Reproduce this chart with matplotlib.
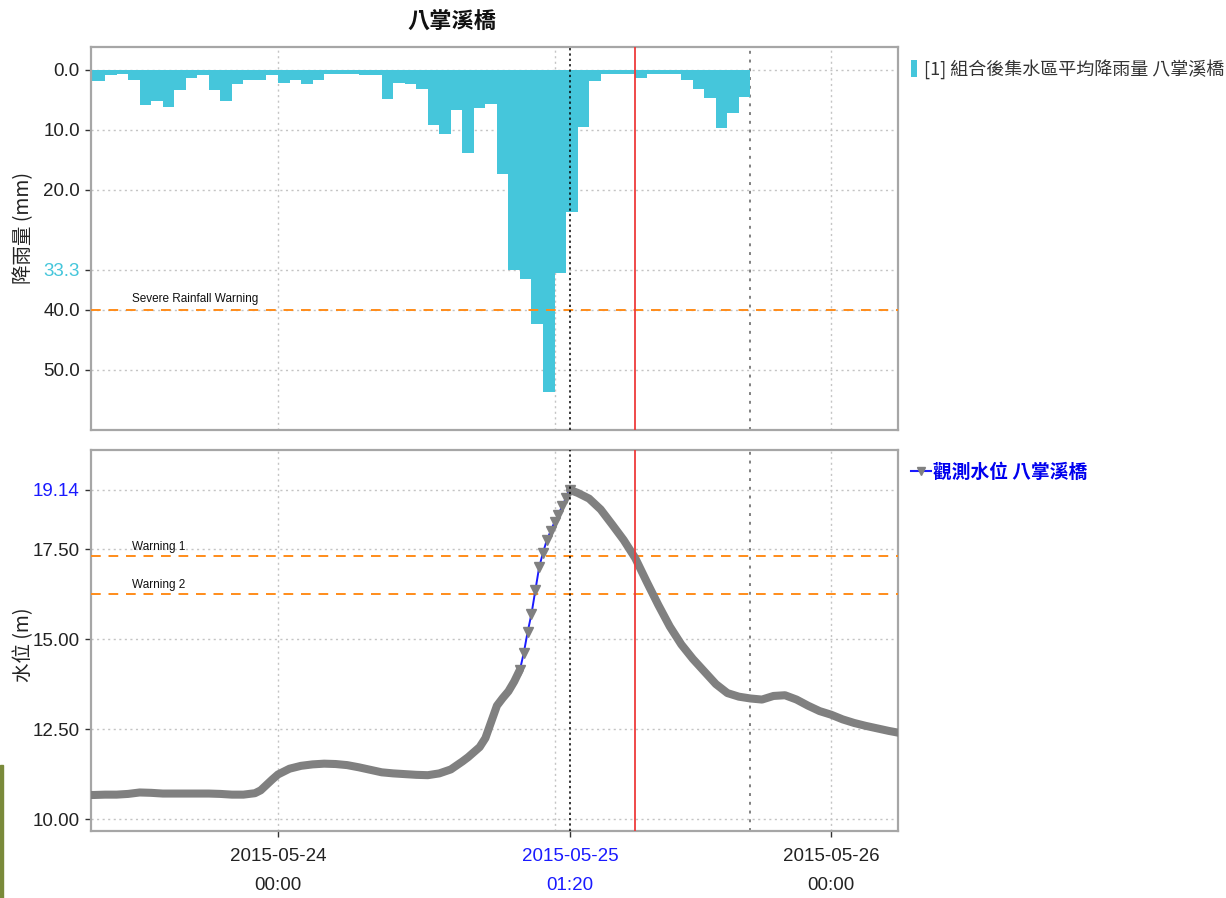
import pandas as pd
import matplotlib
matplotlib.use("Agg")
import matplotlib.pyplot as plt
import matplotlib.dates as mdates
from matplotlib.patches import Patch, Rectangle
from matplotlib.lines import Line2D

# 數字用窄字體, 中文用 Noto Sans CJK TC
plt.rcParams['font.family'] = ['Liberation Sans Narrow', 'Liberation Sans', 'DejaVu Sans']
CJK = ['Noto Sans CJK TC', 'DejaVu Sans']

# ---- 資料 ----
# 時雨量 (mm), 每小時一筆, 從 2015-05-23 07:00 起
rain_start = "2015-05-23 07:00"
rain_mm = [1.8, 1.8, 0.8, 0.6, 1.6, 5.8, 5.1, 6.1, 3.3, 1.4, 0.9, 3.3, 5.1, 2.4, 1.6, 1.6, 0.9,
           2.1, 1.7, 2.4, 1.6, 0.6, 0.6, 0.6, 0.8, 0.8, 4.8, 2.2, 2.4, 3.1, 9.2, 10.7, 6.6,
           13.9, 6.3, 5.6, 17.4, 33.3, 34.9, 42.4, 53.6,
           33.8, 23.7, 9.5, 1.9, 0.6, 0.6, 0.6, 1.4, 0.6, 0.6, 0.6, 1.7, 3.2, 4.6, 9.7, 7.2, 4.5]

# 觀測水位 (m), 時間為距 2015-05-24 00:00 的小時數
level_hours = [-17, -16, -15, -14, -13, -12, -11, -10, -9, -8, -7, -6, -5, -4, -3, -2, -1.5, -1, -0.5,
               0, 1, 2, 3, 4, 5, 6, 7, 8, 9, 10, 11, 12, 13, 14, 15, 16, 16.5, 17, 17.5,
               18, 18.5, 19, 19.5, 20, 20.5,
               21, 21.333, 21.667, 22, 22.333, 22.667, 23, 23.333, 23.667, 24, 24.333, 24.667, 25, 25.333,
               26, 27, 28, 29, 30, 31, 32, 33, 34, 35, 36, 37, 38, 39, 40, 41, 42, 43, 44, 45,
               46, 47, 48, 49, 50, 51, 52, 53, 54]
level_m = [10.67, 10.67, 10.68, 10.68, 10.70, 10.74, 10.73, 10.71, 10.71, 10.71, 10.71, 10.71,
           10.70, 10.68, 10.68, 10.72, 10.80, 10.95, 11.10,
           11.24, 11.40, 11.48, 11.52, 11.54, 11.53, 11.50, 11.44, 11.37, 11.30, 11.27, 11.25,
           11.23, 11.22, 11.27, 11.38, 11.60, 11.72, 11.86, 12.00,
           12.25, 12.70, 13.15, 13.36, 13.55, 13.82,
           14.15, 14.62, 15.20, 15.70, 16.35, 17.00, 17.40, 17.75, 18.00, 18.25, 18.45, 18.70, 18.92, 19.14,
           19.06, 18.90, 18.60, 18.18, 17.75, 17.25, 16.59, 15.95, 15.35, 14.85, 14.45, 14.10,
           13.75, 13.50, 13.40, 13.35, 13.32, 13.42, 13.44, 13.32,
           13.15, 13.00, 12.90, 12.77, 12.67, 12.59, 12.52, 12.45, 12.39]

rain_ticks = [0.0, 10.0, 20.0, 33.3, 40.0, 50.0]
level_ticks = [10.0, 12.5, 15.0, 17.5, 19.14]
severe_rain = 40.0
warning_1 = 17.31
warning_2 = 16.25

base = pd.Timestamp("2015-05-24 00:00")
rain_times = mdates.date2num(pd.date_range(rain_start, periods=len(rain_mm), freq="h"))
level_times = mdates.date2num(base + pd.to_timedelta(level_hours, unit="h"))

x_left = mdates.date2num(base + pd.Timedelta(hours=-16.23))
x_right = mdates.date2num(base + pd.Timedelta(hours=53.81))
sel_time = mdates.date2num(pd.Timestamp("2015-05-25 01:20"))
red_time = mdates.date2num(pd.Timestamp("2015-05-25 07:00"))
end_time = mdates.date2num(pd.Timestamp("2015-05-25 17:00"))
day_lines = mdates.date2num(pd.to_datetime(["2015-05-24", "2015-05-25", "2015-05-26"]))
x_ticks = [day_lines[0], sel_time, day_lines[2]]
x_labels = ["2015-05-24\n00:00", "2015-05-25\n01:20", "2015-05-26\n00:00"]

CYAN = "#45c6db"
GRAY = "#808080"
ORANGE = "#ff8c1a"
BLUE = "#1a1aff"
GRID = "#c4c4c4"

fig = plt.figure(figsize=(12.26, 8.98), dpi=100)
ax1 = fig.add_axes([0.0742, 0.5212, 0.6583, 0.4265])
ax2 = fig.add_axes([0.0742, 0.0746, 0.6583, 0.4243])


def common_lines(ax, yticks):
    for y in yticks:
        ax.axhline(y, color=GRID, ls=(0, (1.5, 2.5)), lw=1, zorder=1)
    for d in day_lines:
        ax.axvline(d, color=GRID, ls=(0, (1.5, 2.5)), lw=1, zorder=1)
    ax.axvline(end_time, color="#808080", ls=(0, (1.5, 3)), lw=1.4, zorder=1)
    ax.axvline(sel_time, color="black", ls=(0, (1.5, 2)), lw=1.1, zorder=6)
    ax.axvline(red_time, color="#ee3b3b", lw=1.3, zorder=6)
    for s in ax.spines.values():
        s.set_color("#a6a6a6")
        s.set_linewidth(1.6)
    ax.set_xlim(x_left, x_right)
    ax.tick_params(axis="y", length=4, width=1, color="#333333", pad=4,
                   labelsize=13.5, labelcolor="#222222")


# ---- 上圖: 降雨量 ----
ax1.bar(rain_times, rain_mm, width=1 / 24, align="edge", color=CYAN, linewidth=0, zorder=2)
common_lines(ax1, rain_ticks)
ax1.axhline(severe_rain, color=ORANGE, ls=(0, (5, 4)), lw=1.4, zorder=3)
ax1.text(0.051, severe_rain - 0.8, "Severe Rainfall Warning", transform=ax1.get_yaxis_transform(),
         fontsize=8.5, va="bottom", ha="left", color="#111111")
ax1.set_ylim(60, -3.83)
ax1.set_yticks(rain_ticks)
ax1.set_yticklabels([f"{v:.1f}" for v in rain_ticks])
ax1.get_yticklabels()[3].set_color(CYAN)
ax1.set_xticks([])
ax1.set_ylabel("降雨量 (mm)", fontsize=14, family=CJK, color="#222222")
ax1.yaxis.set_label_coords(-0.071, 0.527)

leg1 = ax1.legend([Patch(facecolor=CYAN, edgecolor="none")], ["[1] 組合後集水區平均降雨量 八掌溪橋"],
                  loc="center left", bbox_to_anchor=(911 / 1226, 1 - 69 / 898),
                  bbox_transform=fig.transFigure, frameon=False, borderpad=0, borderaxespad=0,
                  handlelength=0.35, handleheight=1.0, handletextpad=0.35,
                  prop={"family": CJK, "size": 13})
leg1.get_texts()[0].set_color("#333333")

# ---- 下圖: 水位 ----
common_lines(ax2, level_ticks)
ax2.axhline(warning_1, color=ORANGE, ls=(0, (5, 4)), lw=1.4, zorder=3)
ax2.axhline(warning_2, color=ORANGE, ls=(0, (5, 4)), lw=1.4, zorder=3)
ax2.text(0.051, warning_1 + 0.08, "Warning 1", transform=ax2.get_yaxis_transform(),
         fontsize=8.5, va="bottom", ha="left", color="#111111")
ax2.text(0.051, warning_2 + 0.08, "Warning 2", transform=ax2.get_yaxis_transform(),
         fontsize=8.5, va="bottom", ha="left", color="#111111")

i_a = level_hours.index(21)
i_b = level_hours.index(25.333)
ax2.plot(level_times[:i_a + 1], level_m[:i_a + 1], color=GRAY, lw=5.8,
         solid_capstyle="round", solid_joinstyle="round", zorder=4)
ax2.plot(level_times[i_b:], level_m[i_b:], color=GRAY, lw=5.8,
         solid_capstyle="round", solid_joinstyle="round", zorder=4)
ax2.plot(level_times[i_a:i_b + 1], level_m[i_a:i_b + 1], color=BLUE, lw=1.4, zorder=4)
ax2.plot(level_times[i_a:i_b + 1], level_m[i_a:i_b + 1], ls="none", marker="v", ms=6.5,
         color=GRAY, zorder=5)

ax2.set_ylim(9.67, 20.25)
ax2.set_yticks(level_ticks)
ax2.set_yticklabels([f"{v:.2f}" for v in level_ticks])
ax2.get_yticklabels()[4].set_color(BLUE)
ax2.set_xticks(x_ticks)
ax2.set_xticklabels(x_labels)
ax2.tick_params(axis="x", length=4, width=1, color="#333333", pad=8,
                labelsize=13.5, labelcolor="#222222")
for lab in ax2.get_xticklabels():
    lab.set_linespacing(1.95)
ax2.get_xticklabels()[1].set_color(BLUE)
ax2.set_ylabel("水位 (m)", fontsize=14, family=CJK, color="#222222")
ax2.yaxis.set_label_coords(-0.071, 0.49)

h2 = Line2D([], [], color=BLUE, lw=1.5, marker="v", ms=6, markerfacecolor=GRAY,
            markeredgecolor=GRAY)
leg2 = ax2.legend([h2], ["觀測水位 八掌溪橋"], loc="center left",
                  bbox_to_anchor=(911 / 1226, 1 - 472 / 898), bbox_transform=fig.transFigure,
                  frameon=False, borderpad=0, borderaxespad=0, handlelength=1.05,
                  handletextpad=0.1, prop={"family": CJK, "size": 13.5, "weight": "bold"})
leg2.get_texts()[0].set_color("#0000ee")

fig.text(452 / 1226, 1 - 22 / 898, "八掌溪橋", ha="center", va="center", fontsize=16,
         weight="bold", family=CJK, color="#111111")
fig.add_artist(Rectangle((0, 0), 3 / 1226, (898 - 765) / 898, transform=fig.transFigure,
                         color="#7a8a3a"))

fig.savefig("out.png", dpi=100)
